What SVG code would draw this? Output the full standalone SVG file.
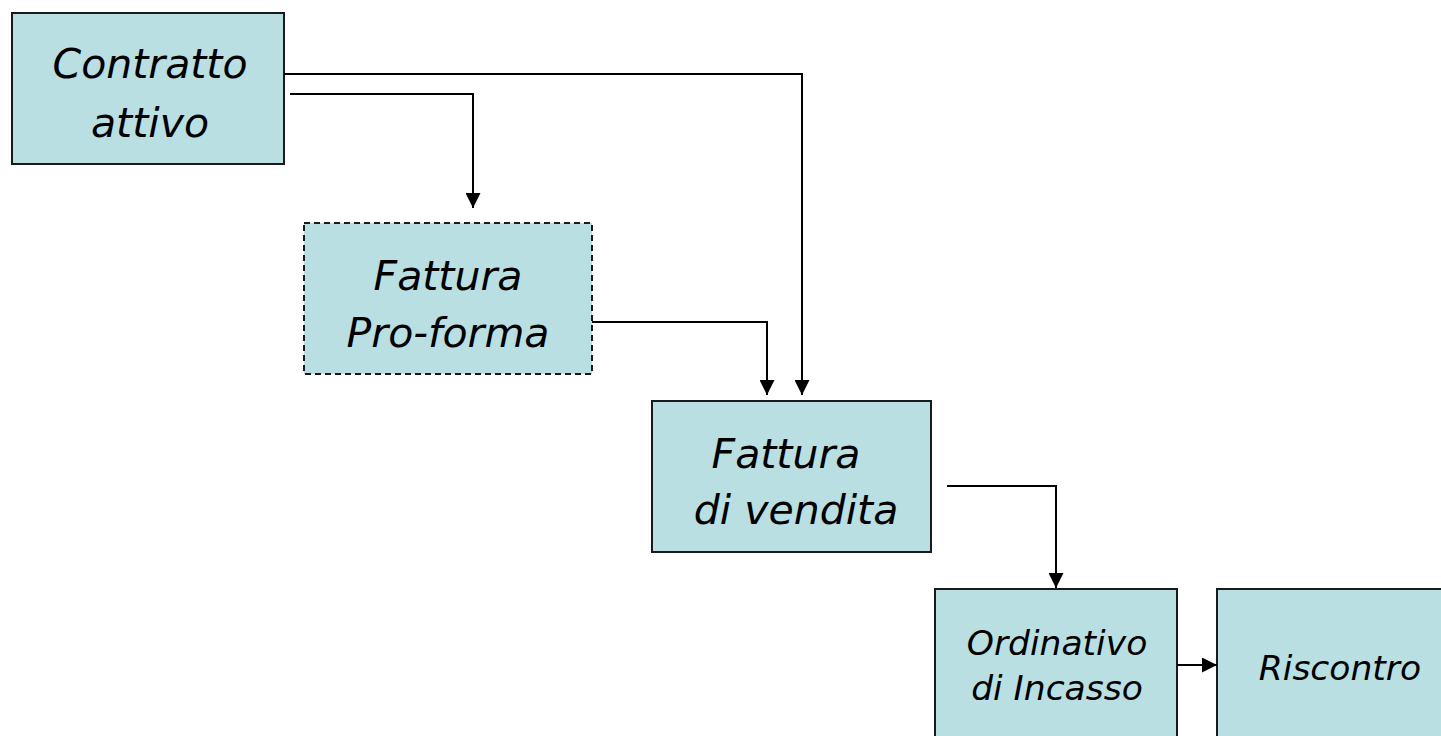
<svg xmlns="http://www.w3.org/2000/svg" width="1441" height="736" viewBox="0 0 1441 736">
  <style>
    .box { fill: #b9dfe3; stroke: #1a1a1a; stroke-width: 2; }
    .dashed { stroke-dasharray: 6 4; }
    .lbl { font-family: "DejaVu Sans", Verdana, sans-serif; font-style: italic; fill: #000; text-anchor: middle; }
    .big { font-size: 41px; }
    .small { font-size: 34.5px; }
    .wire { fill: none; stroke: #000; stroke-width: 2; }
  </style>
  <defs>
    <marker id="arrow" viewBox="0 0 10 10" refX="10" refY="5" markerWidth="15" markerHeight="15" markerUnits="userSpaceOnUse" orient="auto">
      <path d="M0,0 L10,5 L0,10 Z" fill="#000"/>
    </marker>
  </defs>
  <rect width="1441" height="736" fill="#fff"/>

  <g id="node-contratto">
    <rect class="box" x="12" y="13" width="272" height="151"/>
    <text class="lbl big" x="150" y="78">Contratto</text>
    <text class="lbl big" x="150" y="137">attivo</text>
  </g>

  <g id="node-proforma">
    <rect class="box dashed" x="304" y="223" width="288" height="151"/>
    <text class="lbl big" x="448" y="290">Fattura</text>
    <text class="lbl big" x="448" y="347">Pro-forma</text>
  </g>

  <g id="node-vendita">
    <rect class="box" x="652" y="401" width="279" height="151"/>
    <text class="lbl big" x="786" y="468">Fattura</text>
    <text class="lbl big" x="796" y="524">di vendita</text>
  </g>

  <g id="node-ordinativo">
    <rect class="box" x="935" y="589" width="242" height="160"/>
    <text class="lbl small" x="1057" y="655">Ordinativo</text>
    <text class="lbl small" x="1057" y="700">di Incasso</text>
  </g>

  <g id="node-riscontro">
    <rect class="box" x="1217" y="589" width="240" height="160"/>
    <text class="lbl small" x="1340" y="680">Riscontro</text>
  </g>

  <g id="connectors">
    <path class="wire" d="M284,74 H802 V395" marker-end="url(#arrow)"/>
    <path class="wire" d="M290,94 H473 V208" marker-end="url(#arrow)"/>
    <path class="wire" d="M592,322 H767 V395" marker-end="url(#arrow)"/>
    <path class="wire" d="M947,486 H1056 V588" marker-end="url(#arrow)"/>
    <path class="wire" d="M1177,665 H1217" marker-end="url(#arrow)"/>
  </g>
</svg>
